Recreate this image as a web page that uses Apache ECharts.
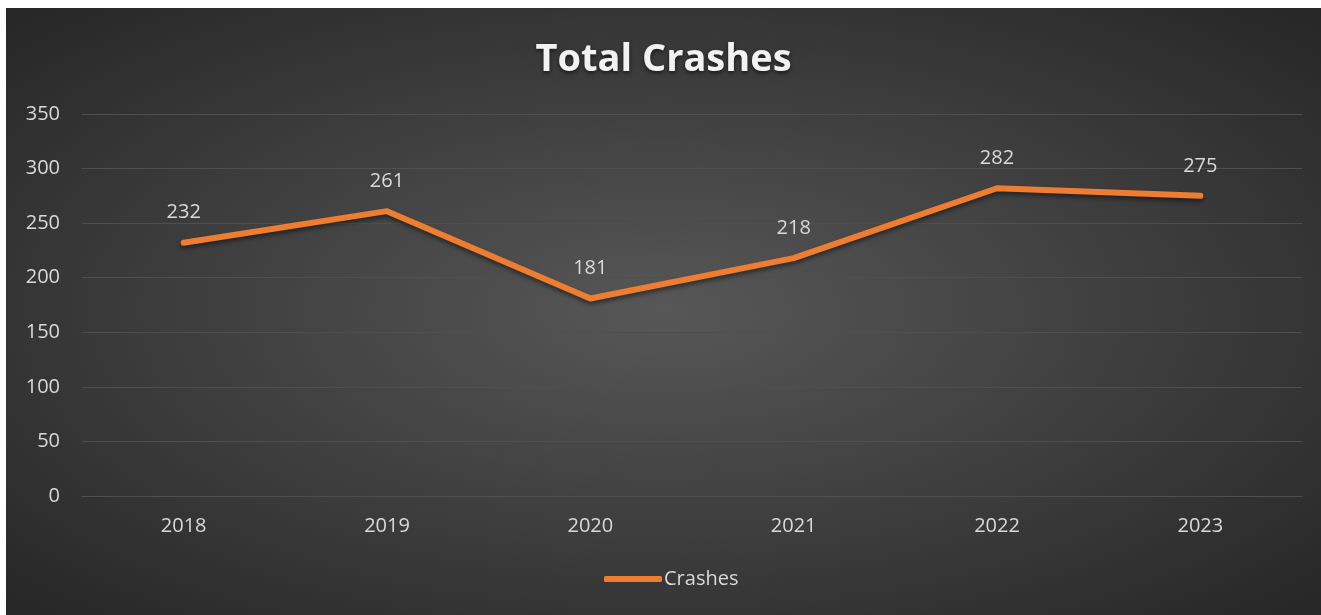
<!DOCTYPE html>
<html>
<head>
<meta charset="utf-8">
<script src="https://cdn.jsdelivr.net/npm/echarts@6/dist/echarts.min.js"></script>
<style>
  html, body { margin: 0; padding: 0; background: #fff; }
  #chart {
    position: absolute; left: 6px; top: 8px; width: 1315px; height: 607px;
    background: radial-gradient(ellipse farthest-corner at 50% 50%, #575757 0%, #3c3c3c 55%, #262626 100%);
  }
</style>
</head>
<body>
<div id="chart"></div>
<script>
const years = ['2018', '2019', '2020', '2021', '2022', '2023']
const crashes = [232, 261, 181, 218, 282, 275]

const chart = echarts.init(document.getElementById('chart'))
const font = '"Open Sans", "Noto Sans", sans-serif'

chart.setOption({
  backgroundColor: 'transparent',
  textStyle: { fontFamily: font },
  title: {
    text: 'Total Crashes',
    left: 'center',
    top: 28,
    textStyle: {
      color: '#f2f2f2',
      fontSize: 38,
      fontWeight: 'bold',
      fontFamily: font,
      textShadowColor: 'rgba(0,0,0,0.6)',
      textShadowBlur: 4,
      textShadowOffsetY: 2
    }
  },
  legend: {
    bottom: 21,
    left: 593,
    data: ['Crashes'],
    icon: 'roundRect',
    itemWidth: 58,
    itemHeight: 6,
    itemGap: 0,
    textStyle: { color: '#d9d9d9', fontSize: 20, padding: [0, 0, 0, -3] }
  },
  grid: { left: 76, right: 19, top: 106, bottom: 119, containLabel: false },
  xAxis: {
    type: 'category',
    data: years,
    axisLine: { lineStyle: { color: '#4f4f4f', width: 1 } },
    axisTick: { show: false },
    axisLabel: { color: '#d9d9d9', fontSize: 20, margin: 20 }
  },
  yAxis: {
    type: 'value',
    min: 0,
    max: 350,
    interval: 50,
    axisLine: { show: false },
    axisTick: { show: false },
    axisLabel: { color: '#d9d9d9', fontSize: 20, margin: 22 },
    splitLine: { lineStyle: { color: '#4f4f4f', width: 1 } }
  },
  series: [{
    name: 'Crashes',
    type: 'line',
    data: crashes,
    symbol: 'circle',
    symbolSize: 0,
    lineStyle: {
      color: '#ED7D31', width: 6, cap: 'round', join: 'round',
      shadowColor: 'rgba(0,0,0,0.45)', shadowBlur: 4, shadowOffsetY: 3
    },
    itemStyle: { color: '#ED7D31' },
    label: {
      show: true,
      position: 'top',
      distance: 20,
      color: '#d9d9d9',
      fontSize: 20
    }
  }]
})
</script>
</body>
</html>
